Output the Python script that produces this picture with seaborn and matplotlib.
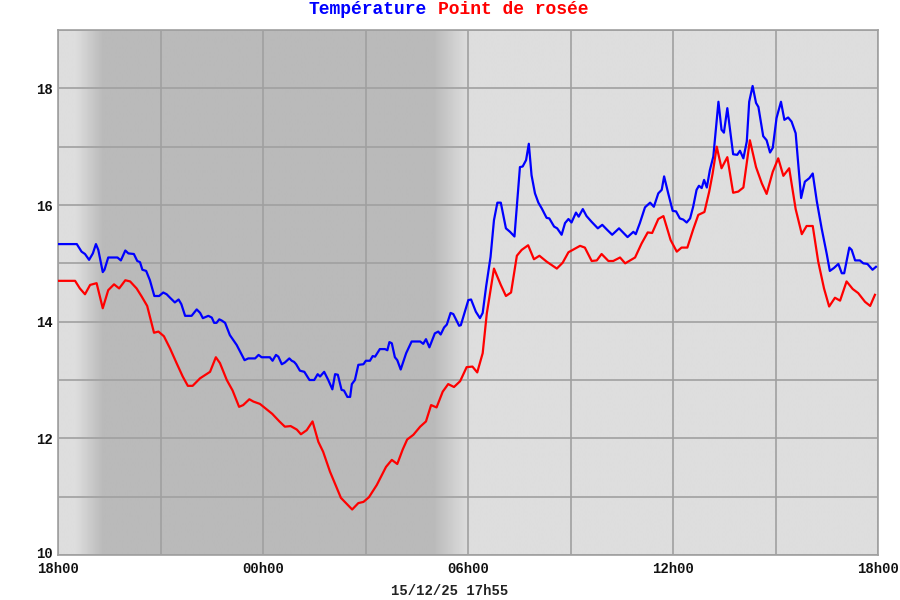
import numpy as np
import pandas as pd
import matplotlib
matplotlib.use("Agg")
import matplotlib.pyplot as plt
import matplotlib.transforms as mtransforms
import seaborn as sns

# hours since 18h00 (15/12) and readings
temp_h = [0.0, 0.55, 0.69, 0.79, 0.91, 1.02, 1.11, 1.18, 1.31, 1.36, 1.47, 1.74, 1.84, 1.97, 2.06,
          2.22, 2.32, 2.40, 2.47, 2.58, 2.69, 2.82, 2.96, 3.08, 3.18, 3.28, 3.42, 3.53, 3.61, 3.72,
          3.91, 4.06, 4.16, 4.24, 4.40, 4.50, 4.57, 4.64, 4.72, 4.79, 4.89, 5.03, 5.23, 5.38, 5.46,
          5.57, 5.77, 5.87, 5.96, 6.20, 6.28, 6.38, 6.45, 6.55, 6.64, 6.77, 6.84, 6.91, 6.97, 7.08,
          7.21, 7.36, 7.50, 7.60, 7.67, 7.79, 7.91, 8.03, 8.11, 8.19, 8.30, 8.37, 8.47, 8.55, 8.60,
          8.69, 8.79, 8.94, 9.01, 9.13, 9.21, 9.28, 9.42, 9.57, 9.64, 9.70, 9.77, 9.86, 9.93, 10.03,
          10.19, 10.35, 10.60, 10.69, 10.77, 10.87, 11.03, 11.13, 11.20, 11.30, 11.38, 11.49, 11.57,
          11.74, 11.79, 12.01, 12.09, 12.23, 12.35, 12.43, 12.53, 12.59, 12.66, 12.76, 12.86, 12.96,
          13.11, 13.23, 13.36, 13.52, 13.60, 13.70, 13.78, 13.86, 13.96, 14.06, 14.16, 14.30, 14.38,
          14.52, 14.61, 14.74, 14.84, 14.94, 15.03, 15.16, 15.24, 15.36, 15.47, 15.62, 15.80, 15.93,
          16.08, 16.22, 16.42, 16.67, 16.84, 16.91, 17.03, 17.18, 17.33, 17.44, 17.57, 17.67, 17.74,
          17.86, 17.99, 18.09, 18.20, 18.30, 18.40, 18.50, 18.59, 18.69, 18.76, 18.84, 18.91, 18.99,
          19.08, 19.18, 19.33, 19.42, 19.49, 19.59, 19.67, 19.76, 19.88, 19.96, 20.06, 20.16, 20.23,
          20.33, 20.43, 20.50, 20.64, 20.74, 20.84, 20.92, 21.03, 21.16, 21.26, 21.37, 21.47, 21.59,
          21.75, 21.86, 21.99, 22.09, 22.21, 22.35, 22.50, 22.59, 22.71, 22.84, 22.94, 23.01, 23.16,
          23.23, 23.33, 23.47, 23.57, 23.69, 23.84, 23.94]
temp_v = [15.33, 15.33, 15.20, 15.16, 15.06, 15.17, 15.33, 15.23, 14.85, 14.89, 15.10, 15.10, 15.05, 15.22, 15.17,
          15.16, 15.04, 15.02, 14.89, 14.87, 14.71, 14.44, 14.44, 14.50, 14.47, 14.41, 14.33, 14.38, 14.30, 14.10,
          14.10, 14.21, 14.15, 14.06, 14.10, 14.07, 13.98, 13.98, 14.04, 14.02, 13.98, 13.77, 13.60, 13.43, 13.34,
          13.37, 13.37, 13.43, 13.39, 13.39, 13.33, 13.43, 13.40, 13.27, 13.30, 13.37, 13.33, 13.31, 13.27, 13.16,
          13.14, 13.00, 13.00, 13.10, 13.06, 13.14, 13.00, 12.84, 13.10, 13.09, 12.83, 12.82, 12.71, 12.71, 12.93,
          13.00, 13.26, 13.27, 13.33, 13.33, 13.41, 13.40, 13.53, 13.53, 13.51, 13.65, 13.63, 13.39, 13.34, 13.18,
          13.46, 13.66, 13.66, 13.62, 13.70, 13.56, 13.80, 13.83, 13.78, 13.90, 13.95, 14.15, 14.13,
          13.93, 13.94, 14.37, 14.38, 14.17, 14.06, 14.15, 14.60, 14.83, 15.11, 15.74, 16.04, 16.04,
          15.60, 15.54, 15.46, 16.65, 16.66, 16.77, 17.05, 16.51, 16.20, 16.04, 15.94, 15.78, 15.77,
          15.63, 15.60, 15.49, 15.69, 15.76, 15.70, 15.87, 15.80, 15.93, 15.81, 15.71, 15.60, 15.66,
          15.57, 15.49, 15.60, 15.45, 15.54, 15.50, 15.69, 15.96, 16.04, 15.97, 16.20, 16.26, 16.49,
          16.20, 15.90, 15.89, 15.77, 15.75, 15.70, 15.77, 15.97, 16.26, 16.33, 16.29, 16.43, 16.30,
          16.60, 16.83, 17.77, 17.29, 17.24, 17.66, 17.29, 16.87, 16.86, 16.93, 16.80, 17.09, 17.77,
          18.04, 17.75, 17.68, 17.18, 17.11, 16.90, 16.98, 17.49, 17.77, 17.46, 17.50, 17.43, 17.23,
          16.12, 16.40, 16.46, 16.54, 16.06, 15.60, 15.16, 14.87, 14.92, 14.99, 14.83, 14.83, 15.27,
          15.23, 15.05, 15.05, 15.00, 14.99, 14.89, 14.94]

dew_h = [0.0, 0.50, 0.64, 0.79, 0.94, 1.13, 1.31, 1.47, 1.64, 1.79, 1.97, 2.11, 2.30, 2.45, 2.61,
         2.81, 2.94, 3.10, 3.28, 3.47, 3.65, 3.80, 3.94, 4.16, 4.45, 4.62, 4.74, 4.94, 5.11, 5.30,
         5.42, 5.60, 5.72, 5.91, 6.06, 6.27, 6.48, 6.64, 6.81, 6.99, 7.11, 7.28, 7.45, 7.62, 7.76,
         7.96, 8.28, 8.61, 8.79, 8.94, 9.10, 9.33, 9.60, 9.77, 9.93, 10.09, 10.22, 10.40, 10.60, 10.77,
         10.92, 11.08, 11.26, 11.42, 11.59, 11.77, 11.96, 12.13, 12.27, 12.43, 12.55, 12.76, 12.96,
         13.11, 13.26, 13.43, 13.57, 13.76, 13.93, 14.09, 14.30, 14.60, 14.77, 14.94, 15.28, 15.42,
         15.62, 15.77, 15.91, 16.11, 16.25, 16.45, 16.60, 16.89, 17.08, 17.26, 17.39, 17.57, 17.72,
         17.93, 18.11, 18.25, 18.42, 18.59, 18.74, 18.92, 19.06, 19.16, 19.28, 19.42, 19.59, 19.76,
         19.91, 20.06, 20.25, 20.43, 20.60, 20.74, 20.92, 21.08, 21.23, 21.40, 21.59, 21.77, 21.91,
         22.09, 22.25, 22.42, 22.57, 22.74, 22.89, 23.08, 23.26, 23.42, 23.62, 23.77, 23.91]
dew_v = [14.70, 14.70, 14.57, 14.47, 14.63, 14.66, 14.23, 14.54, 14.64, 14.57, 14.71, 14.69, 14.57, 14.43, 14.27,
         13.81, 13.83, 13.75, 13.54, 13.29, 13.06, 12.90, 12.90, 13.03, 13.14, 13.39, 13.29, 13.00, 12.82, 12.54,
         12.57, 12.67, 12.63, 12.59, 12.52, 12.42, 12.29, 12.20, 12.21, 12.15, 12.07, 12.14, 12.29, 11.94, 11.77,
         11.43, 10.98, 10.78, 10.89, 10.91, 10.99, 11.20, 11.51, 11.63, 11.56, 11.81, 11.98, 12.06, 12.20, 12.29,
         12.57, 12.53, 12.80, 12.93, 12.88, 12.98, 13.22, 13.23, 13.13, 13.46, 14.14, 14.91, 14.63,
         14.44, 14.50, 15.13, 15.23, 15.31, 15.07, 15.13, 15.03, 14.91, 15.01, 15.19, 15.30, 15.27,
         15.04, 15.05, 15.16, 15.04, 15.04, 15.10, 15.00, 15.10, 15.34, 15.53, 15.52, 15.76, 15.81,
         15.40, 15.20, 15.27, 15.27, 15.58, 15.83, 15.88, 16.23, 16.54, 17.00, 16.63, 16.82, 16.21,
         16.23, 16.30, 17.11, 16.65, 16.37, 16.19, 16.57, 16.80, 16.50, 16.63, 15.93, 15.50, 15.64,
         15.64, 15.03, 14.57, 14.26, 14.41, 14.36, 14.69, 14.56, 14.49, 14.34, 14.27, 14.46]

tick_hours = [0, 6, 12, 18, 24]
tick_labels = ["18h00", "00h00", "06h00", "12h00", "18h00"]

df_t = pd.DataFrame({"h": temp_h, "v": temp_v})
df_d = pd.DataFrame({"h": dew_h, "v": dew_v})

mono = "Liberation Mono"
fig = plt.figure(figsize=(9, 6), dpi=100)
ax = fig.add_axes([58 / 900, 45 / 600, 820 / 900, 525 / 600])

# night shading (light -> dark -> light)
xs = np.linspace(0, 24, 961)
shade = np.interp(xs, [0, 0.5, 1.3, 11.0, 12.0, 24], [0.87, 0.87, 0.73, 0.73, 0.87, 0.87])
ax.imshow(shade[np.newaxis, :], extent=[0, 24, 10, 19], aspect="auto", cmap="gray",
          vmin=0, vmax=1, zorder=0, interpolation="bilinear")

sns.lineplot(data=df_t, x="h", y="v", ax=ax, color="#0000ff", linewidth=1.6, estimator=None, zorder=3)
sns.lineplot(data=df_d, x="h", y="v", ax=ax, color="#ff0000", linewidth=1.6, estimator=None, zorder=3)

ax.set_xlim(0, 24)
ax.set_ylim(10, 19)
ax.set_xticks(tick_hours)
ax.set_xticks([3, 9, 15, 21], minor=True)
ax.set_xticklabels(tick_labels)
ax.set_yticks([10, 12, 14, 16, 18])
ax.set_yticks([11, 13, 15, 17, 19], minor=True)
ax.grid(True, which="both", color="#a0a0a0", linewidth=1.2, zorder=1)
for gl in ax.get_xgridlines() + ax.get_ygridlines():
    gl.set_zorder(1)
ax.tick_params(which="both", length=0, pad=4)
ax.tick_params(axis="x", pad=5)
for lab in ax.get_xticklabels() + ax.get_yticklabels():
    lab.set_fontfamily(mono)
    lab.set_fontweight("bold")
    lab.set_fontsize(10)
    lab.set_color("#111111")
# lift the "10" label a touch so it clears the first hour label
ylab0 = ax.get_yticklabels()[0]
ylab0.set_transform(ylab0.get_transform() + mtransforms.ScaledTranslation(0, 3 / 100, fig.dpi_scale_trans))
ax.set_xlabel("")
ax.set_ylabel("")
for s in ax.spines.values():
    s.set_color("#a0a0a0")
    s.set_linewidth(1.2)

fig.text(427 / 900, 1 - 10 / 600, "Température", color="#0000ff", ha="right", va="center",
         fontfamily=mono, fontweight="bold", fontsize=13)
fig.text(438.5 / 900, 1 - 10 / 600, "Point de rosée", color="#ff0000", ha="left", va="center",
         fontfamily=mono, fontweight="bold", fontsize=13)
fig.text(450 / 900, 1 - 591 / 600, "15/12/25 17h55", color="#222222", ha="center", va="center",
         fontfamily=mono, fontweight="bold", fontsize=10)

fig.savefig("out.png", dpi=100)
